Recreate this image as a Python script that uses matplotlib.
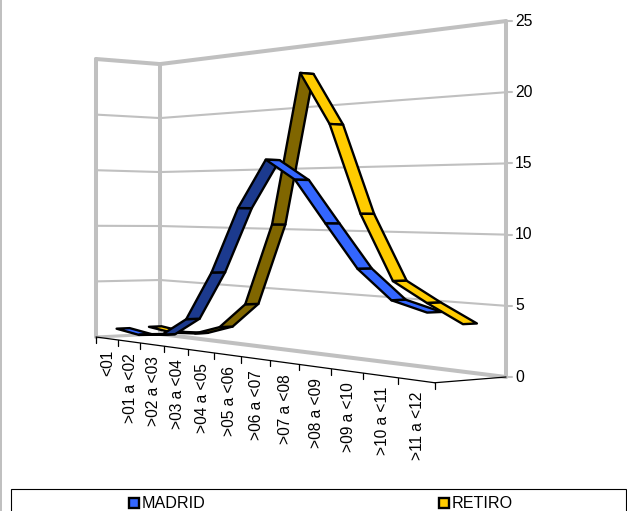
import matplotlib
matplotlib.use("Agg")
import matplotlib.pyplot as plt
from matplotlib.patches import Polygon, Rectangle

plt.rcParams['font.family'] = ['Liberation Sans', 'DejaVu Sans']

categories = ["<01", ">01 a <02", ">02 a <03", ">03 a <04", ">04 a <05", ">05 a <06",
              ">06 a <07", ">07 a <08", ">08 a <09", ">09 a <10", ">10 a <11", ">11 a <12"]
madrid = [0.83, 0.53, 0.8, 2.35, 6.4, 11.7, 15.5, 13.9, 10.6, 7.35, 5.26, 4.6]
retiro = [0.87, 0.6, 0.77, 1.56, 3.7, 10.4, 22.5, 18.3, 11.35, 6.4, 4.97, 3.68]
z_ticks = [0, 5, 10, 15, 20, 25]
series_names = ["MADRID", "RETIRO"]

GREY = "#C0C0C0"
LIGHT = {"MADRID": "#3366FF", "RETIRO": "#FFCC00"}
DARK = {"MADRID": "#1C3A8E", "RETIRO": "#806600"}
BAND = {"MADRID": (0.15, 0.35), "RETIRO": (0.65, 0.85)}

# perspective projection: category position u, depth v, value z -> pixels
G, H = -0.02075, 0.03
A, B, C = 19.2, 68.8, 96.0
D, E, F, K = -4.13, 7.0, 337.0, 278.0 / 25


def project(u, v, z=0.0):
    w = 1 + G * u + H * v
    return ((A * u + B * v + C) / w, (D * u + E * v + F - K * z) / w)


fig = plt.figure(figsize=(6.27, 5.11), dpi=100)
ax = fig.add_axes([0, 0, 1, 1])
ax.set_xlim(0, 627)
ax.set_ylim(511, 0)
ax.axis("off")
n = len(categories)


def line(p, q, color=GREY, lw=2.9, z=1):
    ax.plot([p[0], q[0]], [p[1], q[1]], color=color, lw=lw, zorder=z, solid_capstyle="round")


# walls
for t in z_ticks:
    lw = 2.9 if t == 25 else 1.5
    line(project(0, 0, t), project(0, 1, t), lw=lw if t else 2.2)
    line(project(0, 1, t), project(n, 1, t), lw=2.9 if t in (0, 25) else 1.5)
    r = project(n, 1, t)
    line(r, (r[0] + 6, r[1]), lw=1.5)
    ax.text(r[0] + 9, r[1], str(t), fontsize=11.3, va="center", ha="left", color="black")
line(project(0, 0, 0), project(0, 0, 25))
line(project(0, 1, 0), project(0, 1, 25))
line(project(n, 1, 0), project(n, 1, 25))

# floor axis
line(project(0, 0), project(n, 0), color="black", lw=0.9, z=2)
line(project(n, 0), project(n, 1), color="black", lw=0.9, z=2)
for i in range(n + 1):
    p = project(i, 0)
    line(p, (p[0], p[1] + 6), color="black", lw=0.9, z=2)
for i, c in enumerate(categories):
    p = project(i + 0.5, 0)
    ax.text(p[0] + 1.5, p[1] + 11.5, c, rotation=90, fontsize=11.2, ha="center", va="top", color="black")

# ribbons: back series first, low categories first
zo = 3
for name, vals in (("RETIRO", retiro), ("MADRID", madrid)):
    v0, v1 = BAND[name]
    for i in range(n - 1):
        pts = [project(i + 0.5, v0, vals[i]), project(i + 0.5, v1, vals[i]),
               project(i + 1.5, v1, vals[i + 1]), project(i + 1.5, v0, vals[i + 1])]
        area = sum(pts[k][0] * pts[(k + 1) % 4][1] - pts[(k + 1) % 4][0] * pts[k][1] for k in range(4))
        col = LIGHT[name] if area > 0 else DARK[name]
        ax.add_patch(Polygon(pts, closed=True, facecolor=col, edgecolor="black", lw=1.7,
                             joinstyle="round", zorder=zo))
        zo += 1

# image border and legend
ax.add_patch(Rectangle((0, 0), 1.5, 511, facecolor=GREY, edgecolor="none", zorder=1))
ax.add_patch(Rectangle((10.5, 489.5), 615.5, 30, facecolor="white", edgecolor="black", lw=0.8, zorder=50))
for name, x in zip(series_names, (133.5, 443.5)):
    ax.add_patch(Rectangle((x - 5, 498), 10, 10, facecolor=LIGHT[name], edgecolor="black", lw=1.7, zorder=51))
    ax.text(x + 8.5, 503.5, name, fontsize=11.6, va="center", ha="left", color="black", zorder=51)

fig.savefig("out.png", dpi=100)
